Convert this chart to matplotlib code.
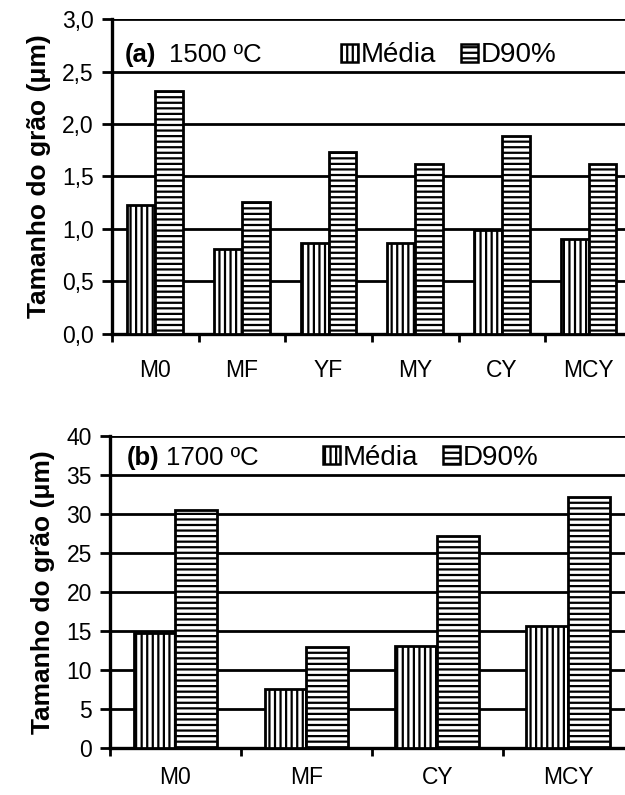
import matplotlib
matplotlib.use('Agg')
import matplotlib.pyplot as plt
from matplotlib.patches import Patch
import numpy as np

plt.rcParams['font.family'] = ['Liberation Sans', 'DejaVu Sans']
plt.rcParams['hatch.linewidth'] = 1.6

# panel (a) 1500 ºC
cats_a = ['M0', 'MF', 'YF', 'MY', 'CY', 'MCY']
media_a = [1.23, 0.81, 0.87, 0.87, 0.99, 0.90]
d90_a = [2.31, 1.26, 1.73, 1.62, 1.89, 1.62]
yticks_a = [0.0, 0.5, 1.0, 1.5, 2.0, 2.5, 3.0]

# panel (b) 1700 ºC
cats_b = ['M0', 'MF', 'CY', 'MCY']
media_b = [14.8, 7.6, 13.1, 15.6]
d90_b = [30.5, 12.9, 27.2, 32.2]
yticks_b = [0, 5, 10, 15, 20, 25, 30, 35, 40]

FS = 16.5   # tick labels
TFS = 18.5  # panel tag
LFS = 20    # legend


def draw_panel(ax, cats, media, d90, yticks, ylim, fmt, tag, temp, tag_x, temp_x, leg_x, leg_y, xpad):
    x = np.arange(len(cats))
    w = 0.32
    ax.set_axisbelow(True)
    for yv in yticks[1:]:
        ax.axhline(yv, color='black', lw=2.0, zorder=0)
    ax.bar(x - w / 2, media, w, facecolor='white', edgecolor='black',
           hatch='|||', linewidth=2.0, zorder=3)
    ax.bar(x + w / 2, d90, w, facecolor='white', edgecolor='black',
           hatch='---', linewidth=2.0, zorder=3)

    ax.set_xlim(-0.5, len(cats) - 0.5)
    ax.set_ylim(*ylim)
    ax.set_yticks(yticks)
    ax.set_yticklabels([fmt(v) for v in yticks], fontsize=FS)
    ax.tick_params(axis='y', length=7, width=2.0, pad=6)

    # category separators as major ticks, names as minor ticks
    ax.set_xticks(np.arange(len(cats) + 1) - 0.5)
    ax.set_xticklabels([])
    ax.tick_params(axis='x', which='major', length=6, width=2.0, direction='out')
    ax.set_xticks(x, minor=True)
    ax.set_xticklabels(cats, minor=True, fontsize=FS)
    ax.tick_params(axis='x', which='minor', length=0, pad=xpad)

    for s in ['top', 'right']:
        ax.spines[s].set_visible(False)
    ax.spines['left'].set_linewidth(2.4)
    ax.spines['bottom'].set_linewidth(2.4)

    ax.set_ylabel('Tamanho do grão (μm)', fontsize=19, fontweight='bold', labelpad=8)

    ax.text(tag_x, leg_y, tag, transform=ax.transAxes, fontsize=TFS,
            fontweight='bold', va='center', ha='left')
    ax.text(temp_x, leg_y, temp, transform=ax.transAxes, fontsize=TFS,
            va='center', ha='left')

    handles = [Patch(facecolor='white', edgecolor='black', hatch='|||', linewidth=1.8),
               Patch(facecolor='white', edgecolor='black', hatch='---', linewidth=1.8)]
    ax.legend(handles, ['Média', 'D90%'], ncol=2, frameon=False, fontsize=LFS,
              loc='center left', bbox_to_anchor=(leg_x, leg_y),
              handlelength=0.62, handleheight=0.62, handletextpad=0.1,
              columnspacing=0.9, borderpad=0, borderaxespad=0)


fig = plt.figure(figsize=(6.25, 7.95), dpi=100)
ax1 = fig.add_axes([0.179, 0.580, 0.832, 0.396])
ax2 = fig.add_axes([0.176, 0.0591, 0.838, 0.3925])

draw_panel(ax1, cats_a, media_a, d90_a, yticks_a, (0, 3.0),
           lambda v: f'{v:.1f}'.replace('.', ','), '(a)', '1500 ºC',
           0.025, 0.11, 0.44, 0.885, 18)
draw_panel(ax2, cats_b, media_b, d90_b, yticks_b, (0, 40),
           lambda v: f'{v:d}', '(b)', '1700 ºC',
           0.032, 0.107, 0.406, 0.93, 13)

fig.savefig('out.png', dpi=100)
